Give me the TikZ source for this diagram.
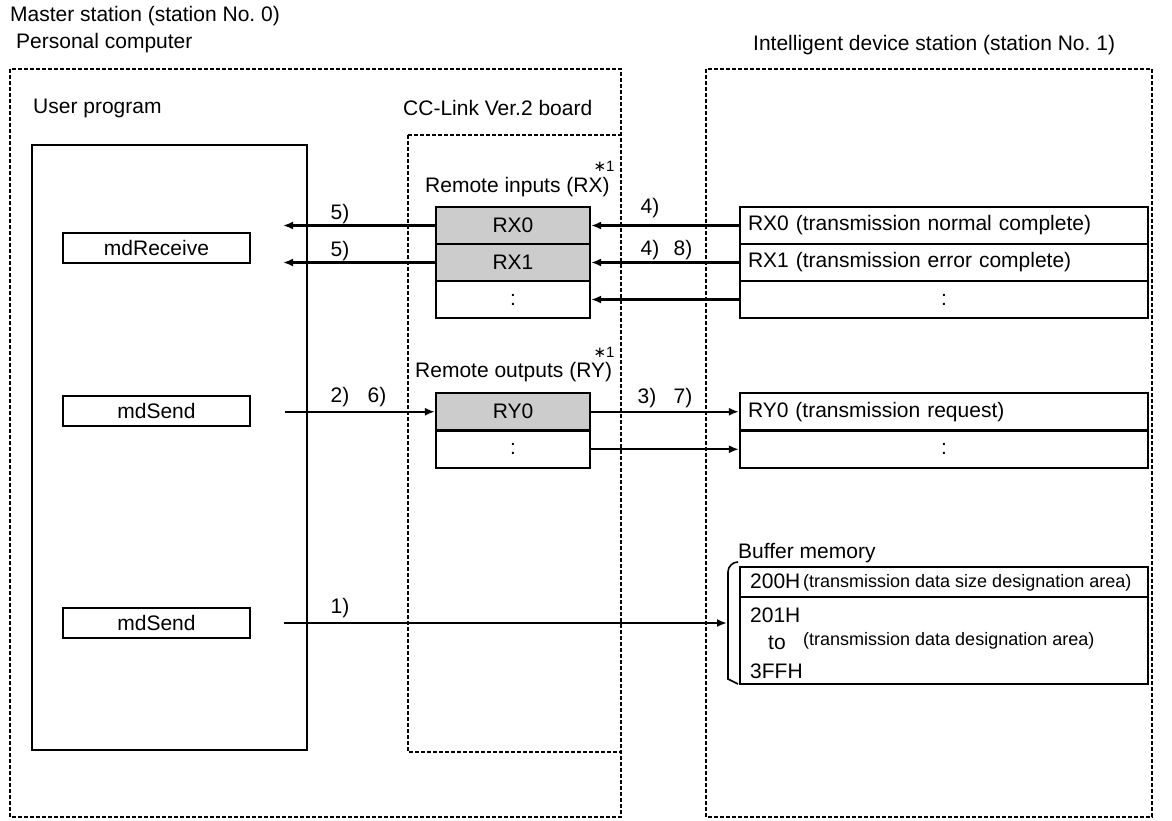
\documentclass[tikz,border=0pt]{standalone}
\usepackage{fontspec}
\setmainfont{Liberation Sans}
\newfontfamily\symfont{DejaVu Sans}
\usetikzlibrary{arrows.meta}
\definecolor{cellgray}{RGB}{204,204,204}
\newcommand\msz{\fontsize{21pt}{25pt}\selectfont}
\newcommand\ssz{\fontsize{18pt}{22pt}\selectfont}
\newcommand\tsz{\fontsize{15pt}{17pt}\selectfont}
\frenchspacing
\begin{document}
\begin{tikzpicture}[x=1pt,y=-1pt,
  lbl/.style={inner sep=0pt, font=\msz},
  slbl/.style={inner sep=0pt, font=\ssz},
  frame/.style={line width=2.6pt, dash pattern=on 4pt off 2pt},
  box/.style={draw, line width=2.2pt, inner sep=0pt, font=\msz},
  gcell/.style={box, fill=cellgray},
  wcell/.style={box, inner xsep=8pt, text width=392pt, align=left},
  arr/.style={line width=2.2pt, -{Latex[length=10pt,width=8pt]}},
  star/.style={inner sep=0pt, font=\tsz}
]
\useasboundingbox (0,0) rectangle (1172,820);

% headings
\node[lbl, anchor=base west] (tmaster) at (10,21) {Master station (station No.\ 0)};
\node[lbl, anchor=base west] (tpc) at (16,48) {Personal computer};
\node[lbl, anchor=base west] (tint) at (753,50) {Intelligent device station (station No.\ 1)};

% frames
\draw[frame] (10,69) rectangle (621,817);
\draw[frame] (706,69) rectangle (1152,817);
\draw[frame] (408,135) rectangle (621,752);

\node[lbl, anchor=base west] (tuser) at (33,113) {User program};
\node[lbl, anchor=base west] (tcc) at (403,115) {CC-Link Ver.2 board};

% user program box
\node[box, minimum width=275pt, minimum height=605pt] (up) at (169.5,447.5) {};
\node[box, minimum width=187pt, minimum height=30pt] (recv) at (156.5,248) {mdReceive};
\node[box, minimum width=187pt, minimum height=30pt] (send1) at (156.5,411) {mdSend};
\node[box, minimum width=187pt, minimum height=30pt] (send2) at (156.5,623) {mdSend};

% remote inputs
\node[star] (st1) at (604,166) {{\symfont ∗}1};
\node[lbl, anchor=base west] (trx) at (425,192) {Remote inputs (RX)};
\node[gcell, minimum width=154pt, minimum height=37pt] (bRX0) at (513,225.5) {RX0};
\node[gcell, minimum width=154pt, minimum height=37pt] (bRX1) at (513,262.5) {RX1};
\node[box, minimum width=154pt, minimum height=37pt] (bRXd) at (513,299.5) {:};

\node[wcell, minimum height=37pt] (rRX0) at (944,225.5) {RX0 (transmission normal complete)};
\node[wcell, minimum height=37pt] (rRX1) at (944,262.5) {RX1 (transmission error complete)};
\node[wcell, minimum height=37pt, align=center] (rRXd) at (944,299.5) {:};

\draw[arr] (rRX0.west) -- (bRX0.east);
\draw[arr] (rRX1.west) -- (bRX1.east);
\draw[arr] (rRXd.west) -- (bRXd.east);
\node[lbl, anchor=base] (l4a) at (650,213) {4)};
\node[lbl, anchor=base] (l4b) at (650,255) {4)};
\node[lbl, anchor=base] (l8) at (683,255) {8)};

\coordinate (e0) at (283,225.5);
\coordinate (e1) at (283,262.5);
\draw[arr] (bRX0.west) -- (e0);
\draw[arr] (bRX1.west) -- (e1);
\node[lbl, anchor=base] (l5a) at (340,219) {5)};
\node[lbl, anchor=base] (l5b) at (340,256) {5)};

% remote outputs
\node[star] (st2) at (604,352) {{\symfont ∗}1};
\node[lbl, anchor=base west] (try) at (415,377) {Remote outputs (RY)};
\node[gcell, minimum width=154pt, minimum height=37.5pt] (bRY0) at (513,411.75) {RY0};
\node[box, minimum width=154pt, minimum height=37.5pt] (bRYd) at (513,449.25) {:};
\node[wcell, minimum height=37.5pt] (rRY0) at (944,411.75) {RY0 (transmission request)};
\node[wcell, minimum height=37.5pt, align=center] (rRYd) at (944,449.25) {:};

\coordinate (s1) at (285,411.75);
\draw[arr] (s1) -- (bRY0.west);
\node[lbl, anchor=base] (l2) at (340,402) {2)};
\node[lbl, anchor=base] (l6) at (377,402) {6)};
\draw[arr] (bRY0.east) -- (rRY0.west);
\draw[arr] (bRYd.east) -- (rRYd.west);
\node[lbl, anchor=base] (l3) at (647,403) {3)};
\node[lbl, anchor=base] (l7) at (683,403) {7)};

% buffer memory
\node[lbl, anchor=base west] (tbuf) at (738,558) {Buffer memory};
\node[box, minimum width=408pt, minimum height=30pt] (m200) at (944,582) {};
\node[box, minimum width=408pt, minimum height=87pt] (m201) at (944,640.5) {};
\node[lbl, anchor=base west] (t200) at (750,588) {200H};
\node[slbl, anchor=base west] (t200d) at (803,587) {(transmission data size designation area)};
\node[lbl, anchor=base west] (t201) at (750,622) {201H};
\node[lbl, anchor=base west] (tto) at (768,649) {to};
\node[slbl, anchor=base west] (t201d) at (803,645) {(transmission data designation area)};
\node[lbl, anchor=base west] (t3ff) at (750,678) {3FFH};
\draw[line width=1.6pt] (738,562) to[out=180,in=90] (728,572) -- (728,679) -- (738,684);

\coordinate (s3) at (284,623);
\coordinate (brk) at (727,623);
\draw[arr] (s3) -- (brk);
\node[lbl, anchor=base] (l1) at (340,613) {1)};
\end{tikzpicture}
\end{document}
